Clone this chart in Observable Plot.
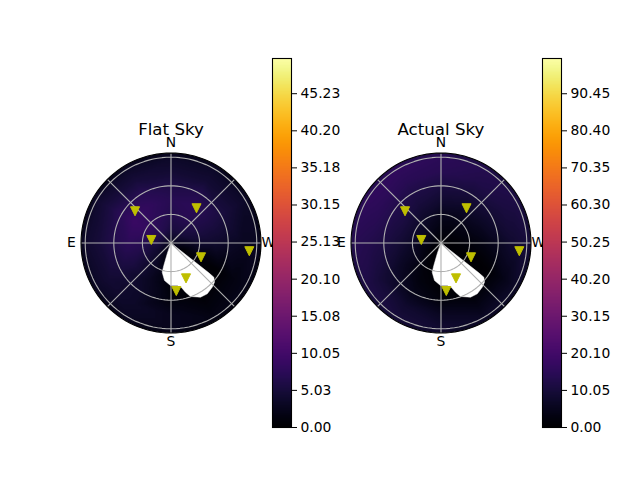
<!DOCTYPE html>
<html><head><meta charset="utf-8">
<script src="https://cdn.jsdelivr.net/npm/d3@7"></script>
<script src="https://cdn.jsdelivr.net/npm/@observablehq/plot@0.6"></script>
<style>
html,body{margin:0;padding:0;background:#fff;width:640px;height:480px;overflow:hidden}
svg{position:absolute;overflow:visible;max-width:none!important}
</style></head><body>
<script>
// Sky sampling grid: azimuth (deg, N=0, E=90) and zenith radius
const azimuths = [0,30,60,90,120,150,180,210,240,270,300,330];
const radii = [15,30,45,60,75,90,97];
const flatCenter = 2.5;
const flatSky = [
  [5.5,6.5,6.5,5.5,4,2,0.5,0,0.5,3,5,5.5],
  [6.5,7.5,8.5,7,5,3,1,0.3,1,4,6,7],
  [7,8,9,7.5,5.5,3,0.8,0,0.5,4,6,7.5],
  [6,7,7.5,6.5,5,3.5,1.2,0.2,0.5,3.5,5.5,6.5],
  [4.5,5,5.5,5,4.5,3.5,2.5,1,1.5,3,4.5,4.5],
  [3.5,3.5,4,4,3.5,3,2.5,1.8,2.2,3,3.5,3.5],
  [2.2,2.2,2.2,2.2,2.2,2,1.8,1.5,1.5,2,2.2,2.2]
];
const actualCenter = 0.5;
const actualSky = [
  [3,4,5,4,2,0.5,0,0,0,1,2,2.5],
  [5,7,8,7,5,1.5,0.3,0,0,2,4,4.5],
  [8.5,10,11,9.5,6,2.5,0.5,0,0,3.5,6.5,7.5],
  [11,12,13,11.5,8,4.5,2,0.5,1,6,9,10],
  [14,14.5,15,13,10,8,6,3.5,4,8.5,11,12.5],
  [15,16,16,14,12,10,8.5,6.5,7,10,12,13.5],
  [12,13,13,12,10,8.5,7,6,6,8.5,10,11]
];
// Masked (no data) outline: azimuth, radius
const maskAz = [0,231.7,231.4,228,223,215.5,208.6,200,196.4,193,188.3,179.3,170.2,163.2,162.3,160.6];
const maskR  = [0,50.5,57.5,61.4,63.4,65.5,64.7,59.7,53.8,47.6,45.1,44.6,39.9,32,24.8,12];
// Star markers
const starAz = [48.6,323.7,81.3,244.5,264,203,186.3];
const starR  = [50.3,45.2,20.9,34.9,82.6,40.3,50.7];
// Compass labels
const compassText = ["N","E","S","W"];
const compassAz = [0,90,180,270];
const compassR = [105.5,104.5,103.5,102];
// Grid
const gridRings = [30,60,90];
const gridSpokes = [0,45,90,135,180,225,270,315];
const rimR = 94.4;
// Colour bars
const flatMax = 50;
const actualMax = 100;
const flatTicks = [0,5.03,10.05,15.08,20.10,25.13,30.15,35.18,40.20,45.23];
const actualTicks = [0,10.05,20.10,30.15,40.20,50.25,60.30,70.35,80.40,90.45];

const FONT = "'DejaVu Sans'";
const px = a => a * Math.PI / 180;
const X = (az, r) => -r * Math.sin(px(az));
const Y = (az, r) => r * Math.cos(px(az));
const SCALE = 0.9533, SIZE = 281, HALF = SIZE / 2 / SCALE;

function sky(title, center, table, max, left) {
  const pts = [{az:0, r:0, v:center}];
  table.forEach((row, i) => row.forEach((v, j) => pts.push({az: azimuths[j], r: radii[i], v})));
  const mask = maskAz.map((a, i) => ({az: a, r: maskR[i]}));
  const stars = starAz.map((a, i) => ({az: a, r: starR[i]}));
  const compass = compassText.map((t, i) => ({t, az: compassAz[i], r: compassR[i]}));
  const circle = r => d3.range(0, 361, 3).map(a => ({az: a, r}));
  const down = {draw(c, size) { const h = Math.sqrt(size / 3) * 1.5; c.moveTo(-h, -h); c.lineTo(h, -h); c.lineTo(0, h); c.closePath(); }};
  const chart = Plot.plot({
    width: SIZE, height: SIZE, margin: 0,
    style: {background: "transparent", fontFamily: FONT},
    x: {domain: [-HALF, HALF], axis: null},
    y: {domain: [-HALF, HALF], axis: null},
    color: {type: "linear", domain: [0, max], scheme: "inferno"},
    marks: [
      Plot.raster(pts, {x: d => X(d.az, d.r), y: d => Y(d.az, d.r), fill: "v", interpolate: "barycentric", pixelSize: 1}),
      Plot.line(mask, {x: d => X(d.az, d.r), y: d => Y(d.az, d.r), fill: "white", stroke: "white", strokeWidth: 0.5, curve: "linear-closed"}),
      ...gridRings.map(r => Plot.line(circle(r), {x: d => X(d.az, d.r), y: d => Y(d.az, d.r), stroke: "#b0b0b0", strokeWidth: 1.1})),
      Plot.link(gridSpokes, {x1: 0, y1: 0, x2: a => X(a, rimR), y2: a => Y(a, rimR), stroke: "#b0b0b0", strokeWidth: 1.1}),
      Plot.line(circle(rimR), {x: d => X(d.az, d.r), y: d => Y(d.az, d.r), stroke: "black", strokeWidth: 1.1}),
      Plot.dot(stars, {x: d => X(d.az, d.r), y: d => Y(d.az, d.r), symbol: down, r: 2.95, fill: "#bfbf00", stroke: "#bfbf00", strokeWidth: 1}),
      Plot.text(compass, {x: d => X(d.az, d.r), y: d => Y(d.az, d.r), text: "t", fontSize: 13.89, fill: "black"}),
      Plot.text([title], {x: 0, y: 119, text: d => d, fontSize: 16.67, fill: "black"})
    ]
  });
  chart.style.left = left + "px";
  chart.style.top = "102px";
  // keep the sky image inside the polar rim
  const id = "clip" + left;
  const sx = chart.scale("x"), sy = chart.scale("y");
  const svg = d3.select(chart);
  svg.append("clipPath").attr("id", id).append("circle")
    .attr("cx", sx.apply(0)).attr("cy", sy.apply(0)).attr("r", rimR * SCALE);
  svg.select("image").attr("clip-path", `url(#${id})`);
  document.body.append(chart);
}

function bar(max, ticks, left, barWidth) {
  const chart = Plot.plot({
    width: barWidth + 70, height: 369, marginTop: 0, marginBottom: 0, marginLeft: 0, marginRight: 70,
    style: {background: "transparent", fontFamily: FONT, fontSize: "13.89px"},
    x: {domain: [0, 1], axis: null},
    y: {domain: [0, max], axis: null},
    color: {type: "linear", domain: [0, max], scheme: "inferno"},
    marks: [
      Plot.raster({fill: (x, y) => y, x1: 0, x2: 1, y1: 0, y2: max, pixelSize: 1}),
      Plot.frame({stroke: "black", strokeWidth: 1.1}),
      Plot.axisY({anchor: "right", ticks, tickFormat: d => d.toFixed(2), tickSize: 5, tickPadding: 4, label: null, fill: "black", stroke: "black", fontSize: 13.89})
    ]
  });
  chart.style.left = left + "px";
  chart.style.top = "58px";
  document.body.append(chart);
}

sky("Flat Sky", flatCenter, flatSky, flatMax, 30);
bar(flatMax, flatTicks, 272, 19);
sky("Actual Sky", actualCenter, actualSky, actualMax, 300);
bar(actualMax, actualTicks, 542, 19);
</script>
</body></html>
